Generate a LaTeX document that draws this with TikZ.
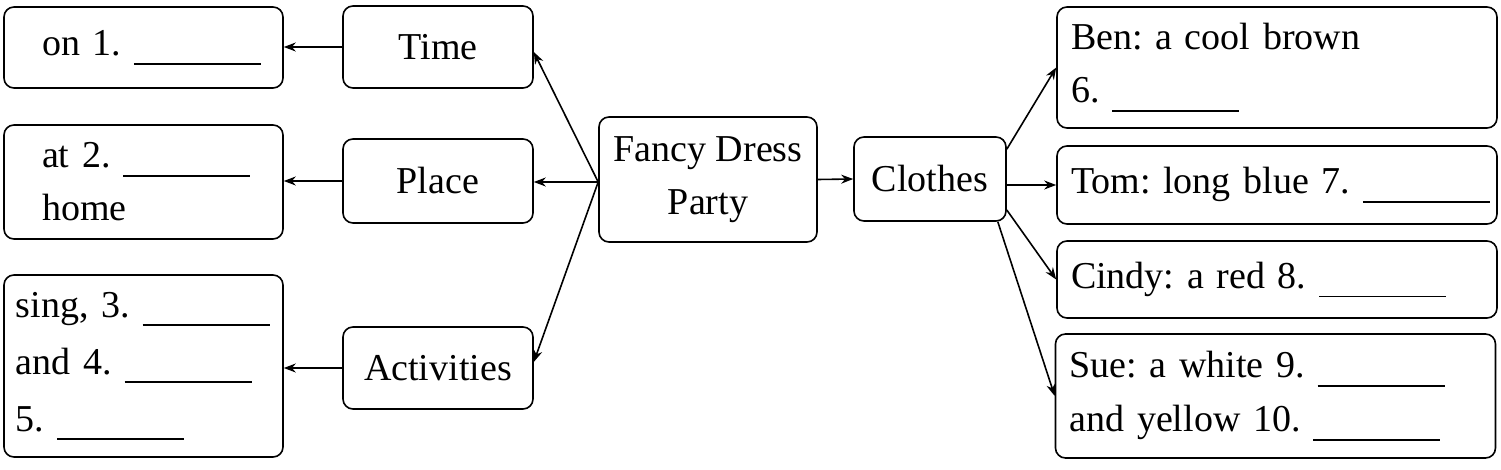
\documentclass[tikz,border=0pt]{standalone}
\usepackage{fontspec}
\setmainfont{Liberation Serif}
\usetikzlibrary{arrows.meta}

\newcommand{\answerline}{\rule[-4.5pt]{63.5pt}{0.8pt}}

\begin{document}
\frenchspacing
\begin{tikzpicture}[x=0.5pt, y=-0.5pt, line width=0.8pt,
    box/.style={draw, rounded corners=5pt, align=left, inner ysep=0pt,
      font=\fontsize{19}{26.5}\selectfont\frenchspacing},
    topic/.style={box, align=center, minimum width=95pt, minimum height=41pt},
    link/.style={-{Stealth[length=6pt, width=4.5pt]}}]
    \useasboundingbox (0, 0) rectangle (1501, 470);

    % draw centre boxes
    \node[box, align=center, minimum width=109pt, minimum height=62.5pt] (party) at (708, 179.5)
      {Fancy Dress\\Party};
    \node[box, align=center, minimum width=76pt, minimum height=42pt] (clothes) at (930, 179) {Clothes};

    % draw topic boxes
    \node[topic] (time) at (438, 47) {Time};
    \node[topic, minimum height=42pt] (place) at (438, 181) {Place};
    \node[topic] (activities) at (438, 368) {Activities};

    % draw answer boxes on the left
    \node[box, text width=101.5pt, inner xsep=19pt, minimum height=40.5pt] (time ans) at (143.5, 47.5)
      {on~1.~\answerline};
    \node[box, text width=101.5pt, inner xsep=19pt, minimum height=57pt] (place ans) at (143.5, 182)
      {at~2.~\answerline\\home};
    \node[box, text width=127.5pt, inner xsep=6pt, minimum height=91pt,
      font=\fontsize{19}{28.5}\selectfont\frenchspacing] (activities ans) at (143.5, 366)
      {sing,~3.~\answerline\\and~4.~\answerline\\5.~\answerline};

    % draw answer boxes on the right
    \node[box, text width=206pt, inner xsep=7pt, minimum height=60.5pt] (ben) at (1277, 67.5)
      {Ben: a cool brown\\6.~\answerline};
    \node[box, text width=206pt, inner xsep=7pt, minimum height=39pt] (tom) at (1277, 185)
      {Tom:~long~blue~7.~\answerline};
    \node[box, text width=206pt, inner xsep=7pt, minimum height=38.5pt] (cindy) at (1277, 279.5)
      {Cindy:~a~red~8.~\answerline};
    \node[box, text width=206pt, inner xsep=7pt, minimum height=62pt,
      font=\fontsize{19}{27}\selectfont\frenchspacing] (sue) at (1275.5, 396)
      {Sue:~a~white~9.~\answerline\\and~yellow~10.~\answerline};

    % draw arrows out of the party box
    \coordinate (hub) at ([yshift=-1.25pt]party.west);
    \draw[link] (hub) -- ([yshift=-2.5pt]time.east);
    \draw[link] (hub) -- (hub -| place.east);
    \draw[link] (hub) -- ([yshift=3pt]activities.east);
    \draw[link] (party.east) -- (clothes.west);

    % draw arrows to the left answers
    \draw[link] (time.west) -- (time.west -| time ans.east);
    \draw[link] (place.west) -- (place.west -| place ans.east);
    \draw[link] (activities.west) -- (activities.west -| activities ans.east);

    % draw arrows to the right answers
    \draw[link] ([yshift=-6.5pt]clothes.north east) -- (ben.west);
    \draw[link] (clothes.east |- tom.west) -- (tom.west);
    \draw[link] ([yshift=-15.5pt]clothes.east) -- (cindy.west);
    \draw[link] ([xshift=-4.5pt]clothes.south east) -- (sue.west);
\end{tikzpicture}
\end{document}
